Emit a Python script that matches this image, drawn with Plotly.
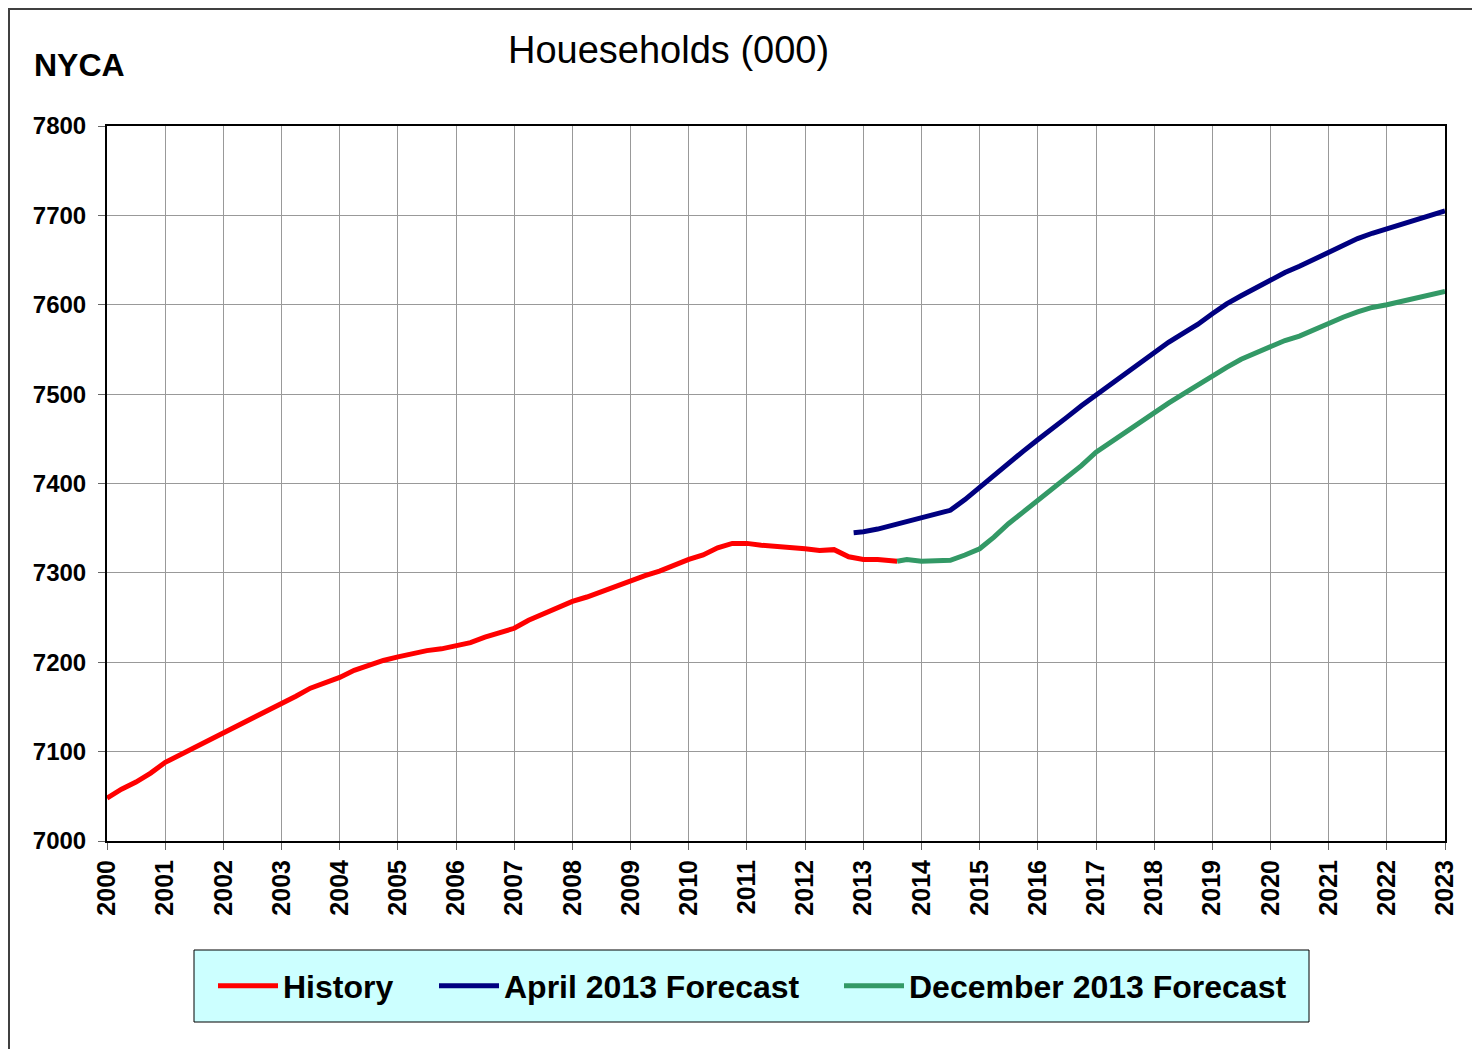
import pandas as pd
import plotly.graph_objects as go

# ---- data (thousands of households), quarterly readings ----
history_vals = [7048, 7058, 7066, 7076, 7088, 7096, 7105, 7113,
                7121, 7129, 7137, 7146, 7154, 7162, 7171, 7177,
                7183, 7191, 7197, 7202, 7206, 7210, 7213, 7215,
                7218, 7222, 7228, 7233, 7238, 7247, 7254, 7261,
                7268, 7273, 7279, 7286, 7292, 7297, 7302, 7309,
                7315, 7320, 7328, 7333, 7333, 7331, 7330, 7328,
                7327, 7325, 7326, 7318, 7315, 7315, 7314, 7313]
history_dates = list(pd.date_range("2000-01-01", periods=55, freq="QS")) + [pd.Timestamp("2013-08-01")]

april_vals = [7345, 7346, 7349, 7353, 7357, 7361, 7365, 7370, 7382,
              7396, 7409, 7422, 7436, 7449, 7461, 7474, 7487,
              7499, 7511, 7524, 7535, 7547, 7558, 7568, 7578,
              7590, 7601, 7610, 7619, 7628, 7636, 7643, 7651,
              7658, 7666, 7674, 7680, 7685, 7691, 7696, 7700, 7705]
april_dates = [pd.Timestamp("2012-11-01")] + list(pd.date_range("2013-01-01", periods=41, freq="QS"))

dec_vals = [7313, 7315, 7313, 7313, 7314, 7320,
            7327, 7340, 7355, 7368, 7381, 7394, 7407, 7420,
            7435, 7446, 7458, 7468, 7479, 7490, 7500, 7510,
            7521, 7530, 7539, 7546, 7553, 7560, 7565, 7572,
            7580, 7586, 7592, 7597, 7600, 7604, 7608, 7612, 7615]
dec_dates = [pd.Timestamp("2013-08-01")] + list(pd.date_range("2013-10-01", periods=38, freq="QS"))

series_names = ["History", "April 2013 Forecast", "December 2013 Forecast"]
series_colors = ["#ff0000", "#000080", "#339966"]
year_ticks = [str(y) for y in range(2000, 2024)]

FONT = "Liberation Sans, Arial, sans-serif"

# screen-pixel helpers (plot area on screen: x 107..1445, y 126..841)
def px(x):
    return (x - 107) / 1338

def py(y):
    return (841 - y) / 715

fig = go.Figure()
legend_ids = ["legend", "legend2", "legend3"]
for name, xs, ys, col, lg in zip(series_names,
                                 [history_dates, april_dates, dec_dates],
                                 [history_vals, april_vals, dec_vals],
                                 series_colors, legend_ids):
    fig.add_trace(go.Scatter(x=xs, y=ys, mode="lines", name=name, legend=lg,
                             line=dict(color=col, width=5)))

legend_font = dict(size=32, family=FONT, color="black", weight="bold")
def leg(left_screen):
    return dict(orientation="h", x=px(left_screen), xanchor="left",
                y=py(986), yanchor="middle",
                bgcolor="rgba(0,0,0,0)", borderwidth=0,
                font=legend_font, itemwidth=60)

fig.update_layout(
    width=1480, height=1049,
    margin=dict(l=99, r=43, t=118, b=216),
    paper_bgcolor="white", plot_bgcolor="white",
    font=dict(family=FONT, color="black"),
    showlegend=True,
    legend=leg(213),
    legend2=leg(434),
    legend3=leg(839),
    xaxis=dict(type="date", range=["2000-01-01", "2023-01-01"],
               tickmode="array",
               tickvals=[f"{y}-01-01" for y in year_ticks],
               ticktext=year_ticks,
               tickangle=-90, tickfont=dict(size=25, weight="bold"),
               showgrid=True, gridcolor="#999999", gridwidth=1,
               showline=True, linecolor="black", linewidth=2, mirror=True,
               ticks="outside", ticklen=7, tickcolor="#666666",
               ticklabelstandoff=0, zeroline=False),
    yaxis=dict(range=[7000, 7800], dtick=100, tickfont=dict(size=24, weight="bold"),
               showgrid=True, gridcolor="#999999", gridwidth=1,
               showline=True, linecolor="black", linewidth=2, mirror=True,
               ticks="outside", ticklen=7, tickcolor="#666666",
               ticklabelstandoff=7, zeroline=False),
    annotations=[
        dict(text="Houeseholds (000)", xref="paper", yref="paper",
             x=px(668), y=py(50), xanchor="center", yanchor="middle",
             showarrow=False, font=dict(size=38, family=FONT)),
        dict(text="<b>NYCA</b>", xref="paper", yref="paper",
             x=px(32), y=py(65), xanchor="left", yanchor="middle",
             showarrow=False, font=dict(size=32, family=FONT)),
    ],
    shapes=[
        dict(type="rect", xref="paper", yref="paper",
             x0=px(9), x1=px(1500), y0=py(1070), y1=py(9),
             line=dict(color="#404040", width=2), fillcolor="rgba(0,0,0,0)", layer="below"),
        dict(type="rect", xref="paper", yref="paper",
             x0=px(194), x1=px(1309), y0=py(1022), y1=py(950),
             line=dict(color="black", width=1), fillcolor="#ccffff", layer="below"),
    ],
)

fig.write_html("out.html")
